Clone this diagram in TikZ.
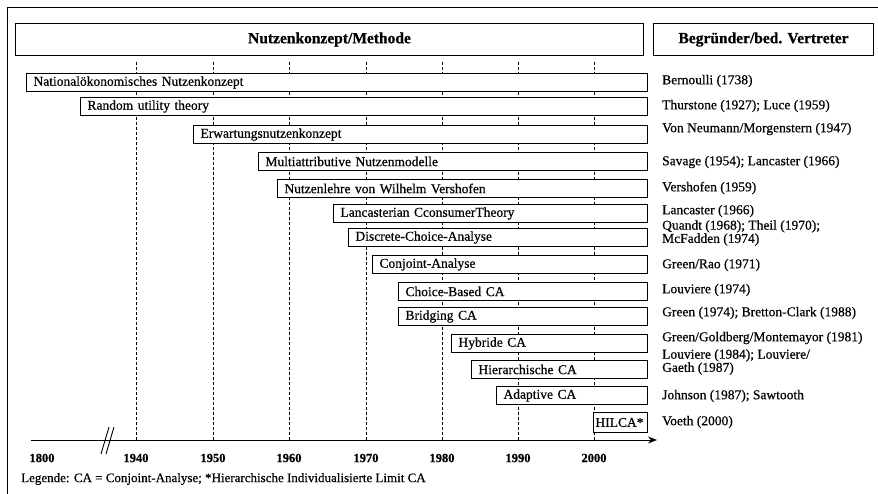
\documentclass[tikz,border=0pt]{standalone}
\usepackage{fontspec}
\setmainfont{Liberation Serif}[FakeBold=0.5,BoldFeatures={FakeBold=0.6}]
\usetikzlibrary{positioning,arrows.meta}
\begin{document}
\begin{tikzpicture}[x=1pt,y=-1pt,
  frameline/.style={line width=0.9pt},
  hdr/.style={draw,line width=1pt,font=\fontsize{15.5}{17}\selectfont\bfseries,inner sep=0pt},
  tbox/.style={draw,fill=white,line width=1pt,anchor=north west,inner xsep=7pt,inner ysep=0pt,
    minimum height=18pt,align=left,font=\fontsize{13.5}{15}\selectfont},
  who/.style={anchor=west,align=left,inner sep=0pt,font=\fontsize{13.5}{11.5}\selectfont},
  yearlbl/.style={font=\fontsize{12.5}{14}\selectfont\bfseries,inner sep=0pt},
  guide/.style={line width=0.9pt,dash pattern=on 3pt off 2pt}]
\useasboundingbox (0,0) rectangle (878,494);
% outer frame (cut off)
\coordinate (f1) at (7,494);
\coordinate (f2) at (7,7);
\coordinate (f3) at (878,7);
\draw[frameline] (f1) -- (f2) -- (f3);
% header boxes
\node[hdr,minimum width=628pt,minimum height=32pt,anchor=north west] (h1) at (15,23) {Nutzenkonzept/Methode};
\node[hdr,minimum width=220pt,minimum height=32pt,anchor=north west] (h2) at (653,23) {Begründer/bed. Vertreter};
% year guides
\foreach \yr/\xx in {1940/136,1950/213,1960/289,1970/366,1980/442,1990/518,2000/594}{
  \coordinate (t\yr) at (\xx,62);
  \coordinate (a\yr) at (\xx,440);
  \draw[guide] (t\yr) -- (a\yr);
  \node[yearlbl] (y\yr) at (\xx,458) {\yr};
}
\node[yearlbl] (y1800) at (42,458) {1800};
% axis
\coordinate (ax0) at (31,440);
\coordinate (ax1) at (657,440);
\draw[line width=1pt,-{Stealth[length=9pt,width=7pt]}] (ax0) -- (ax1);
\coordinate (s1a) at (101,454); \coordinate (s1b) at (109,427);
\coordinate (s2a) at (106,454); \coordinate (s2b) at (114,427);
\draw[line width=0.9pt] (s1a) -- (s1b);
\draw[line width=0.9pt] (s2a) -- (s2b);
% boxes
\node[tbox,text width=607pt] (b1) at (26,73) {Nationalökonomisches Nutzenkonzept};
\node[tbox,text width=553pt] (b2) at (80,97) {Random utility theory};
\node[tbox,text width=440pt] (b3) at (193,125) {Erwartungsnutzenkonzept};
\node[tbox,text width=375pt] (b4) at (258,152) {Multiattributive Nutzenmodelle};
\node[tbox,text width=356pt] (b5) at (277,179) {Nutzenlehre von Wilhelm Vershofen};
\node[tbox,text width=300pt] (b6) at (333,204) {Lancasterian CconsumerTheory};
\node[tbox,text width=285pt] (b7) at (348,228) {Discrete-Choice-Analyse};
\node[tbox,text width=261pt] (b8) at (372,255) {Conjoint-Analyse};
\node[tbox,text width=235pt] (b9) at (398,282) {Choice-Based CA};
\node[tbox,text width=235pt] (b10) at (398,307) {Bridging CA};
\node[tbox,text width=182pt] (b11) at (451,334) {Hybride CA};
\node[tbox,text width=162pt] (b12) at (471,360) {Hierarchische CA};
\node[tbox,text width=137pt] (b13) at (496,386) {Adaptive CA};
\node[tbox,inner xsep=2pt,text width=50pt,minimum height=20pt] (b14) at (593,412) {HILCA*};
% founders
\node[who] (w1) at (662,81) {Bernoulli (1738)};
\node[who] (w2) at (662,106) {Thurstone (1927); Luce (1959)};
\node[who] (w3) at (662,129) {Von Neumann/Morgenstern (1947)};
\node[who] (w4) at (662,162) {Savage (1954); Lancaster (1966)};
\node[who] (w5) at (662,188) {Vershofen (1959)};
\node[who] (w6) at (662,211) {Lancaster (1966)};
\node[who] (w7) at (662,233) {Quandt (1968); Theil (1970);\\McFadden (1974)};
\node[who] (w8) at (662,265) {Green/Rao (1971)};
\node[who] (w9) at (662,290) {Louviere (1974)};
\node[who] (w10) at (662,313) {Green (1974); Bretton-Clark (1988)};
\node[who] (w11) at (662,338) {Green/Goldberg/Montemayor (1981)};
\node[who] (w12) at (662,362) {Louviere (1984); Louviere/\\Gaeth (1987)};
\node[who] (w13) at (662,396) {Johnson (1987); Sawtooth};
\node[who] (w14) at (662,422) {Voeth (2000)};
% legend
\node[anchor=west,inner sep=0pt,font=\fontsize{13}{15}\selectfont] (leg) at (21,479) {Legende: CA = Conjoint-Analyse; *Hierarchische Individualisierte Limit CA};
\end{tikzpicture}
\end{document}
